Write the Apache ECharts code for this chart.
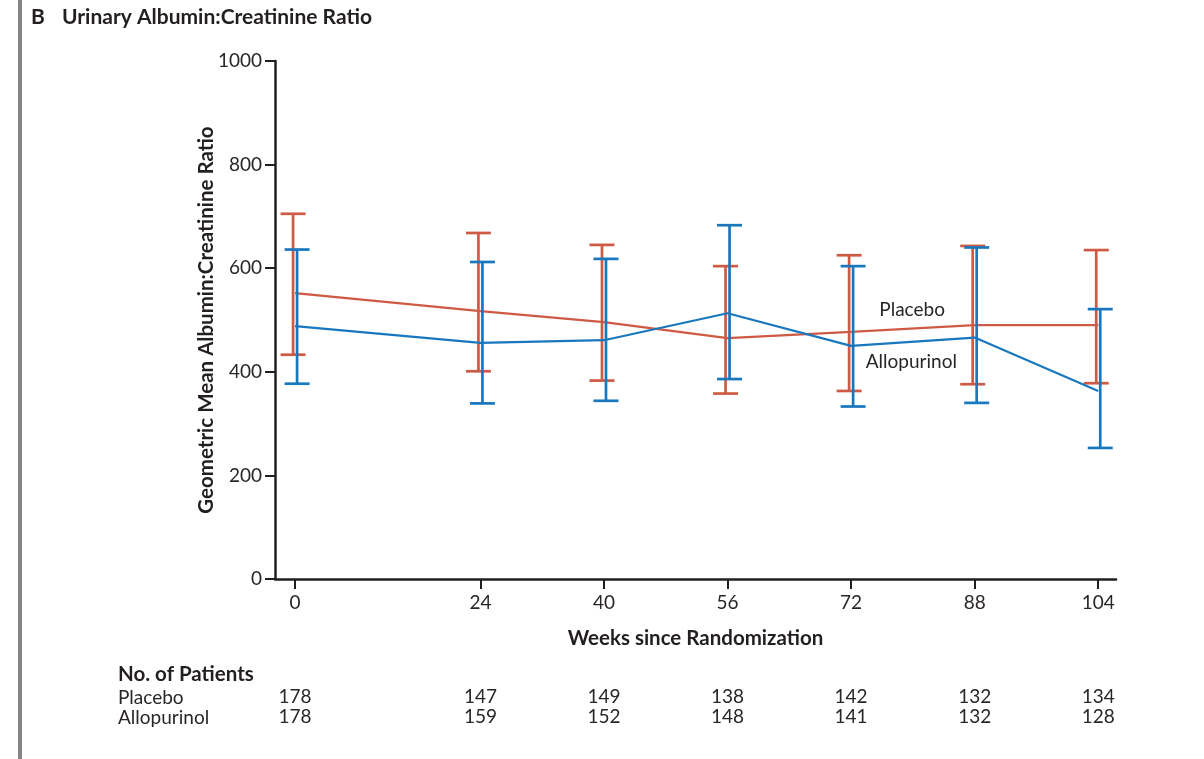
<!DOCTYPE html>
<html>
<head>
<meta charset="utf-8">
<script src="https://cdn.jsdelivr.net/npm/echarts@6/dist/echarts.min.js"></script>
<style>
html,body{margin:0;padding:0;background:#fff;}
#chart{width:1204px;height:759px;}
</style>
</head>
<body>
<div id="chart"></div>
<script>
// ---- data ----
const weeks = [0, 24, 40, 56, 72, 88, 104];
const yTicks = [0, 200, 400, 600, 800, 1000];
const placeboMean  = [552, 517, 496, 465, 477, 490, 490];
const placeboLower = [433, 401, 383, 358, 363, 376, 378];
const placeboUpper = [705, 668, 645, 604, 625, 643, 635];
const alloMean  = [488, 456, 461, 513, 450, 466, 363];
const alloLower = [377, 339, 344, 386, 333, 340, 253];
const alloUpper = [636, 612, 618, 683, 604, 640, 521];
const placeboN = [178, 147, 149, 138, 142, 132, 134];
const alloN    = [178, 159, 152, 148, 141, 132, 128];
const seriesNames = ['Placebo', 'Allopurinol'];

// ---- style ----
const RED = '#cf5a44';
const BLUE = '#1877bd';
const INK = '#231f20';
const TXT = '#2a2627';
const FONT = 'Lato';

const chart = echarts.init(document.getElementById('chart'), null, {renderer: 'canvas'});

function errRender(color, dx) {
  return function (params, api) {
    const x = api.value(0), lo = api.value(1), hi = api.value(2);
    const pLo = api.coord([x, lo]);
    const pHi = api.coord([x, hi]);
    const cx = pLo[0] + dx;
    const hw = 12.5;
    const style = {stroke: color, lineWidth: 2.7, fill: null};
    return {
      type: 'group',
      children: [
        {type: 'line', shape: {x1: cx, y1: pHi[1], x2: cx, y2: pLo[1]}, style: style},
        {type: 'line', shape: {x1: cx - hw, y1: pHi[1], x2: cx + hw, y2: pHi[1]}, style: style},
        {type: 'line', shape: {x1: cx - hw, y1: pLo[1], x2: cx + hw, y2: pLo[1]}, style: style}
      ]
    };
  };
}

const xMin = -2.6, xMax = 106.3;

function countAxis(counts, offset) {
  return {
    type: 'value', min: xMin, max: xMax, position: 'bottom', offset: offset,
    axisLine: {show: false, onZero: false}, axisTick: {show: false}, splitLine: {show: false},
    axisLabel: {
      show: true, customValues: weeks, margin: 14,
      fontFamily: FONT, fontSize: 19, color: TXT,
      formatter: function (v) { const i = weeks.indexOf(v); return i >= 0 ? String(counts[i]) : ''; }
    }
  };
}

const option = {
  backgroundColor: '#ffffff',
  animation: false,
  grid: {left: 275, right: 88, top: 61, bottom: 180, containLabel: false},
  xAxis: [
    {
      type: 'value', min: xMin, max: xMax,
      name: 'Weeks since Randomization', nameLocation: 'middle', nameGap: 49,
      nameMoveOverlap: false,
      nameTextStyle: {fontFamily: FONT, fontSize: 20.5, fontWeight: 'bold', color: INK},
      axisLine: {show: true, onZero: false, lineStyle: {color: INK, width: 2.5}},
      axisTick: {show: true, customValues: weeks, length: 10, lineStyle: {color: INK, width: 2}},
      axisLabel: {show: true, customValues: weeks, margin: 14, fontFamily: FONT, fontSize: 19, color: TXT,
        formatter: function (v) { return String(v); }},
      splitLine: {show: false}
    },
    countAxis(placeboN, 94),
    countAxis(alloN, 114)
  ],
  yAxis: {
    type: 'value', min: 0, max: 1000, interval: 200,
    name: 'Geometric Mean Albumin:Creatinine Ratio', nameLocation: 'middle', nameGap: 58,
    nameRotate: 90, nameMoveOverlap: false,
    nameTextStyle: {fontFamily: FONT, fontSize: 20.5, fontWeight: 'bold', color: INK},
    axisLine: {show: true, onZero: false, lineStyle: {color: INK, width: 2.5}},
    axisTick: {show: true, length: 10, lineStyle: {color: INK, width: 2}},
    axisLabel: {show: true, margin: 13, fontFamily: FONT, fontSize: 19, color: TXT,
      customValues: yTicks, formatter: function (v) { return String(v); }},
    splitLine: {show: false}
  },
  series: [
    {
      name: seriesNames[0] + ' CI', type: 'custom', xAxisIndex: 0,
      renderItem: errRender(RED, -2),
      data: weeks.map((w, i) => [w, placeboLower[i], placeboUpper[i]]),
      encode: {x: 0, y: [1, 2]}, z: 2, clip: false
    },
    {
      name: seriesNames[0], type: 'line', xAxisIndex: 0,
      data: weeks.map((w, i) => [w, placeboMean[i]]),
      showSymbol: false, symbol: 'none', lineStyle: {color: RED, width: 2.2}, z: 3,
      markPoint: {
        symbol: 'circle', symbolSize: 0,
        label: {show: true, position: 'inside', formatter: seriesNames[0],
          fontFamily: FONT, fontSize: 19, color: TXT},
        data: [{coord: [79.9, 519]}]
      }
    },
    {
      name: seriesNames[1] + ' CI', type: 'custom', xAxisIndex: 0,
      renderItem: errRender(BLUE, 2),
      data: weeks.map((w, i) => [w, alloLower[i], alloUpper[i]]),
      encode: {x: 0, y: [1, 2]}, z: 4, clip: false
    },
    {
      name: seriesNames[1], type: 'line', xAxisIndex: 0,
      data: weeks.map((w, i) => [w, alloMean[i]]),
      showSymbol: false, symbol: 'none', lineStyle: {color: BLUE, width: 2.2}, z: 5,
      markPoint: {
        symbol: 'circle', symbolSize: 0,
        label: {show: true, position: 'inside', formatter: seriesNames[1],
          fontFamily: FONT, fontSize: 19, color: TXT},
        data: [{coord: [79.8, 419]}]
      }
    }
  ],
  graphic: [
    {type: 'rect', left: 18, top: 0, shape: {width: 4, height: 759}, style: {fill: '#858585'}},
    {type: 'text', left: 31, top: 7, style: {text: 'B', fontFamily: FONT, fontSize: 21, fontWeight: 'bold', fill: INK}},
    {type: 'text', left: 62, top: 7, style: {text: 'Urinary Albumin:Creatinine Ratio', fontFamily: FONT, fontSize: 21, fontWeight: 'bold', fill: INK}},
    {type: 'text', left: 118, top: 664, style: {text: 'No. of Patients', fontFamily: FONT, fontSize: 20.5, fontWeight: 'bold', fill: INK}},
    {type: 'text', left: 118, top: 688, style: {text: seriesNames[0], fontFamily: FONT, fontSize: 19, fill: TXT}},
    {type: 'text', left: 118, top: 708, style: {text: seriesNames[1], fontFamily: FONT, fontSize: 19, fill: TXT}}
  ]
};

chart.setOption(option);
</script>
</body>
</html>
